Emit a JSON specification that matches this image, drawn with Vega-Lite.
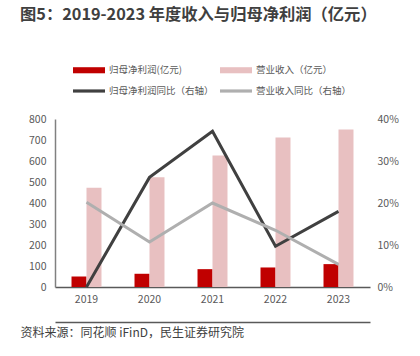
{
  "$schema": "https://vega.github.io/schema/vega-lite/v6.json",
  "width": 315,
  "height": 168,
  "autosize": {"type": "none"},
  "padding": {"left": 55, "top": 119, "right": 50, "bottom": 70},
  "config": {
    "view": {"stroke": null},
    "font": "Noto Sans CJK SC"
  },
  "title": {
    "text": "图5：2019-2023 年度收入与归母净利润（亿元）",
    "anchor": "start",
    "frame": "group",
    "fontSize": 16.3,
    "fontWeight": "bold",
    "color": "#404040",
    "dx": -35,
    "dy": -27
  },
  "datasets": {
    "bars": [
      {"year": "2019", "series": "归母净利润(亿元)", "value": 50},
      {"year": "2019", "series": "营业收入（亿元）", "value": 473},
      {"year": "2020", "series": "归母净利润(亿元)", "value": 63},
      {"year": "2020", "series": "营业收入（亿元）", "value": 523},
      {"year": "2021", "series": "归母净利润(亿元)", "value": 85},
      {"year": "2021", "series": "营业收入（亿元）", "value": 626},
      {"year": "2022", "series": "归母净利润(亿元)", "value": 93},
      {"year": "2022", "series": "营业收入（亿元）", "value": 712},
      {"year": "2023", "series": "归母净利润(亿元)", "value": 109},
      {"year": "2023", "series": "营业收入（亿元）", "value": 750}
    ],
    "lines": [
      {"year": "2019", "series": "归母净利润同比（右轴）", "pct": 0.0},
      {"year": "2020", "series": "归母净利润同比（右轴）", "pct": 0.261},
      {"year": "2021", "series": "归母净利润同比（右轴）", "pct": 0.371},
      {"year": "2022", "series": "归母净利润同比（右轴）", "pct": 0.097},
      {"year": "2023", "series": "归母净利润同比（右轴）", "pct": 0.18},
      {"year": "2019", "series": "营业收入同比（右轴）", "pct": 0.202},
      {"year": "2020", "series": "营业收入同比（右轴）", "pct": 0.107},
      {"year": "2021", "series": "营业收入同比（右轴）", "pct": 0.2},
      {"year": "2022", "series": "营业收入同比（右轴）", "pct": 0.135},
      {"year": "2023", "series": "营业收入同比（右轴）", "pct": 0.054}
    ]
  },
  "layer": [
    {
      "data": {"name": "bars"},
      "mark": {"type": "bar"},
      "encoding": {
        "x": {
          "field": "year", "type": "ordinal",
          "scale": {"paddingInner": 0.524, "paddingOuter": 0.262},
          "axis": {
            "orient": "bottom", "title": null, "labelAngle": 0, "ticks": false,
            "domainColor": "#595959", "domainWidth": 1.5, "labelPadding": 7,
            "labelFontSize": 10.5, "labelColor": "#595959", "grid": false
          }
        },
        "xOffset": {
          "field": "series", "type": "nominal",
          "scale": {"domain": ["归母净利润(亿元)", "营业收入（亿元）"], "paddingInner": 0, "paddingOuter": 0}
        },
        "y": {
          "field": "value", "type": "quantitative",
          "scale": {"domain": [0, 800]},
          "axis": {
            "orient": "left", "title": null, "values": [0, 100, 200, 300, 400, 500, 600, 700, 800],
            "ticks": false, "grid": false, "domainColor": "#808080", "domainWidth": 1.5,
            "labelPadding": 9, "labelFontSize": 10.5, "labelColor": "#595959"
          }
        },
        "color": {
          "field": "series", "type": "nominal",
          "scale": {
            "domain": ["归母净利润(亿元)", "营业收入（亿元）", "归母净利润同比（右轴）", "营业收入同比（右轴）"],
            "range": ["#C00000", "#E8C0C1", "#404040", "#AFAFAF"]
          },
          "legend": {
            "orient": "none", "direction": "horizontal", "legendX": 18, "legendY": -65, "columns": 2,
            "values": ["归母净利润(亿元)", "营业收入（亿元）", "归母净利润同比（右轴）", "营业收入同比（右轴）"],
            "columnPadding": 6, "rowPadding": -10, "title": null,
            "symbolType": "M-1,-0.19H1V0.19H-1Z", "symbolSize": 1024,
            "symbolStrokeWidth": 0, "labelOffset": 4, "labelFontSize": 9.5,
            "labelColor": "#595959",
            "encode": {
              "symbols": {
                "update": {
                  "fill": {"scale": "color", "field": "value"},
                  "opacity": {"value": 1},
                  "shape": {"signal": "indexof(datum.value, '同比') >= 0 ? 'M-1,-0.1H1V0.1H-1Z' : 'M-1,-0.19H1V0.19H-1Z'"}
                }
              }
            }
          }
        }
      }
    },
    {
      "data": {"name": "lines"},
      "mark": {"type": "line", "strokeWidth": 3},
      "encoding": {
        "x": {
          "field": "year", "type": "ordinal",
          "axis": {
            "orient": "bottom", "offset": 35, "labels": false, "ticks": false,
            "domainColor": "#595959", "domainWidth": 1.5, "grid": false,
            "title": "资料来源：同花顺 iFinD，民生证券研究院",
            "titleAnchor": "start", "titleAlign": "left", "titleBaseline": "top",
            "titleX": -35, "titleY": 5, "titleFontSize": 12, "titleFontWeight": "normal",
            "titleColor": "#404040"
          }
        },
        "y": {
          "field": "pct", "type": "quantitative",
          "scale": {"domain": [0, 0.4]},
          "axis": {
            "orient": "right", "title": null, "values": [0, 0.1, 0.2, 0.3, 0.4], "format": ".0%",
            "ticks": false, "grid": false, "domain": false,
            "labelPadding": 7, "labelFontSize": 10.5, "labelColor": "#595959"
          }
        },
        "color": {
          "field": "series", "type": "nominal",
          "scale": {
            "domain": ["归母净利润(亿元)", "营业收入（亿元）", "归母净利润同比（右轴）", "营业收入同比（右轴）"],
            "range": ["#C00000", "#E8C0C1", "#404040", "#AFAFAF"]
          }
        }
      }
    }
  ],
  "resolve": {"scale": {"y": "independent"}, "axis": {"x": "independent"}}
}
